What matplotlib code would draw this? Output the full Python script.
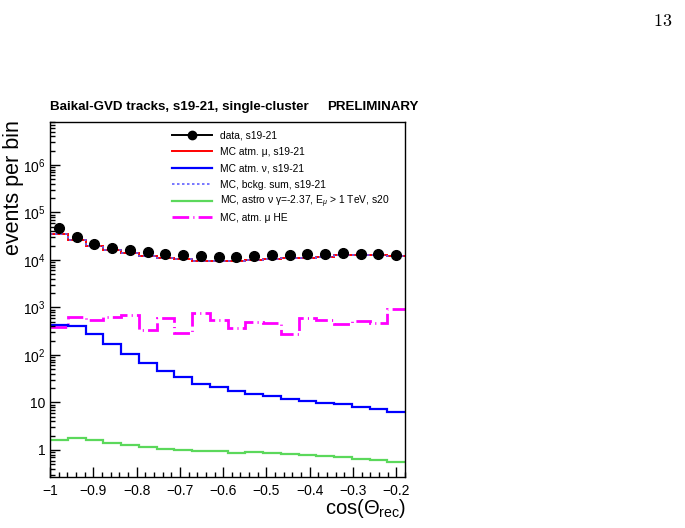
import numpy as np
import matplotlib
matplotlib.use("Agg")
import matplotlib.pyplot as plt
from matplotlib.lines import Line2D
from matplotlib.ticker import FixedLocator, FixedFormatter, MultipleLocator, LogLocator, NullFormatter

plt.rcParams['font.family'] = ['Liberation Sans', 'DejaVu Sans']
plt.rcParams['mathtext.fontset'] = 'custom'
plt.rcParams['mathtext.rm'] = 'Liberation Sans'
plt.rcParams['mathtext.it'] = 'Liberation Sans:italic'

# 20 bins in cos(theta_rec), from -1 to -0.18
edges = np.linspace(-1.0, -0.18, 21)

data = [46500, 31000, 21700, 18100, 16200, 14500, 13600, 12600, 12100, 11700,
        11700, 12100, 12600, 12700, 13200, 13400, 13800, 13600, 13200, 12600]
mc_atm_mu = [35000, 26500, 19700, 16200, 13800, 12300, 11200, 10400, 9700, 9350,
             9350, 9800, 10400, 10800, 11200, 11700, 12500, 13000, 13000, 11900]
mc_atm_nu = [427, 407, 272, 170, 105, 67, 46.5, 34, 24.5, 21,
             17.5, 15.1, 13.5, 11.9, 11.0, 9.8, 9.3, 8.2, 7.3, 6.3]
mc_astro = [1.65, 1.76, 1.6, 1.4, 1.25, 1.16, 1.07, 0.98, 0.94, 0.93,
            0.88, 0.91, 0.865, 0.82, 0.77, 0.74, 0.70, 0.66, 0.62, 0.57]
mc_atm_mu_he = [394, 640, 546, 640, 695, 336, 590, 286, 777, 546,
                364, 495, 480, 277, 610, 546, 450, 530, 480, 915]
bckg_sum = np.array(mc_atm_mu) + np.array(mc_atm_nu)

labels = ["data, s19-21",
          "MC atm. \u03bc, s19-21",
          "MC atm. \u03bd, s19-21",
          "MC, bckg. sum, s19-21",
          "MC, astro \u03bd \u03b3=-2.37, E$_{\\mu}$ > 1 TeV, s20",
          "MC, atm. \u03bc HE"]

ytick_vals = [1, 10, 1e2, 1e3, 1e4, 1e5, 1e6]
ytick_labels = ["1", "10", "10$^{2}$", "10$^{3}$", "10$^{4}$", "10$^{5}$", "10$^{6}$"]

W, H = 685, 528
fig = plt.figure(figsize=(W / 100, H / 100), dpi=100)
ax = fig.add_axes([50 / W, 1 - 477 / H, 355 / W, 355 / H])

he_dash = (6, 1.5, 0.4, 1.5)
sum_dash = (1.5, 1.5)
ax.stairs(mc_atm_mu_he, edges, color='#ff00ff', lw=2.0, ls=(0, he_dash), baseline=None)
ax.stairs(mc_atm_nu, edges, color='#0000ff', lw=1.6, baseline=None)
ax.stairs(mc_astro, edges, color='#5bd85b', lw=1.6, baseline=None)
ax.stairs(mc_atm_mu, edges, color='#ff0000', lw=1.4, baseline=None)
ax.stairs(bckg_sum, edges, color='#6060ff', lw=1.2, ls=(0, sum_dash), baseline=None)
centers = 0.5 * (edges[:-1] + edges[1:])
ax.plot(centers, data, 'o', color='black', ms=7, zorder=5)

ax.set_yscale('log')
ax.set_xlim(-1.0, -0.18)
ax.set_ylim(0.27, 8e6)

ax.yaxis.set_major_locator(FixedLocator(ytick_vals))
ax.yaxis.set_major_formatter(FixedFormatter(ytick_labels))
ax.yaxis.set_minor_locator(LogLocator(base=10, subs=np.arange(2, 10)))
ax.yaxis.set_minor_formatter(NullFormatter())
ax.xaxis.set_minor_locator(MultipleLocator(0.02))
xt = np.arange(-1.0, -0.15, 0.1)
ax.set_xticks(xt)
ax.set_xticklabels(["\u22121" if abs(v + 1) < 1e-9 else "\u2212%.1f" % abs(v) for v in xt])

ax.tick_params(which='both', direction='in', top=False, right=False, labelsize=10, width=1.0)
ax.tick_params(which='major', length=7)
ax.tick_params(which='minor', length=3.5)
ax.tick_params(axis='x', pad=5)
ax.tick_params(axis='y', pad=3)
for s in ax.spines.values():
    s.set_linewidth(1.0)

fig.text(13.5 / W, 1 - 188 / H, "events per bin", rotation=90, ha='center', va='center', fontsize=15.5)
fig.text(406 / W, 1 - 509 / H, r"cos($\Theta_{\rm rec}$)", ha='right', va='center', fontsize=14.5)
fig.text(50 / W, 1 - 107 / H, "Baikal-GVD tracks, s19-21, single-cluster", ha='left', va='center',
         fontsize=9.6, fontweight='bold')
fig.text(419 / W, 1 - 107 / H, "PRELIMINARY", ha='right', va='center', fontsize=9.6, fontweight='bold')
fig.text(672 / W, 1 - 22 / H, r"$13$", ha='right', va='center', fontsize=13, math_fontfamily='cm')

# legend drawn by hand so the rows stay evenly spaced
handles = [dict(color='black', lw=1.4, marker='o', ms=6, markevery=[1]),
           dict(color='#ff0000', lw=1.4),
           dict(color='#0000ff', lw=1.6),
           dict(color='#6060ff', lw=1.2, ls=(0, sum_dash)),
           dict(color='#5bd85b', lw=1.6),
           dict(color='#ff00ff', lw=2.0, ls=(0, he_dash))]
for i, (kw, lab) in enumerate(zip(handles, labels)):
    yc = 1 - (135 + 16.4 * i) / H
    fig.add_artist(Line2D([172 / W, 192 / W, 212 / W], [yc, yc, yc], **kw))
    fig.text(220 / W, yc - 3.6 / H, lab, ha='left', va='baseline', fontsize=7.4)

fig.savefig("out.png", dpi=100)
